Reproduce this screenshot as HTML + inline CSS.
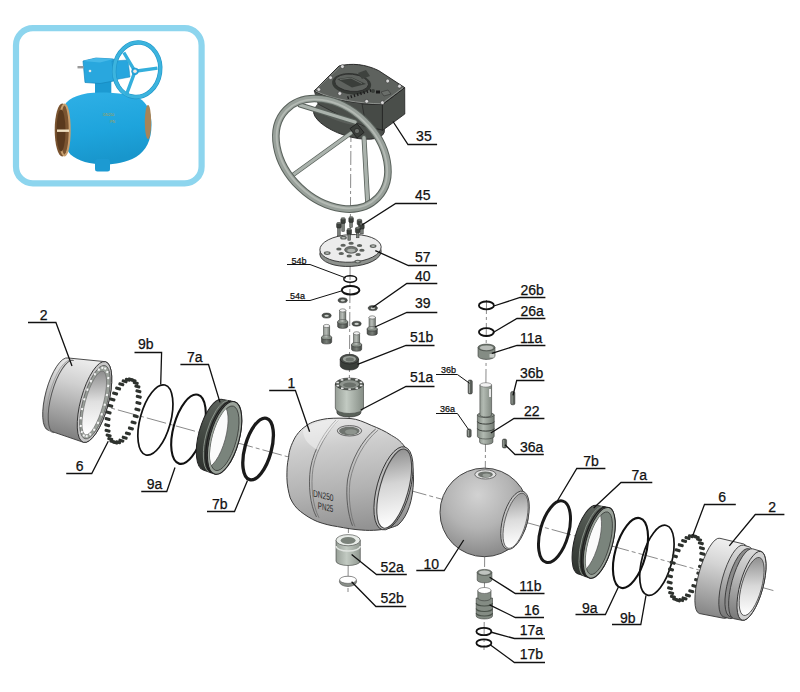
<!DOCTYPE html><html><head><meta charset="utf-8"><style>
html,body{margin:0;padding:0;background:#fff;width:800px;height:692px;overflow:hidden}
svg{display:block}
.lb{font-family:"Liberation Sans",sans-serif;fill:#111;stroke:#111;stroke-width:0.25px}
</style></head><body>
<svg width="800" height="692" viewBox="0 0 800 692">
<defs>
<linearGradient id="gBody" x1="0" y1="0" x2="0.3" y2="1">
 <stop offset="0" stop-color="#e4e4e4"/><stop offset="0.45" stop-color="#c4c4c4"/><stop offset="1" stop-color="#8e8e8e"/>
</linearGradient>
<radialGradient id="gBall" cx="0.45" cy="0.3" r="0.75">
 <stop offset="0" stop-color="#d6d6d6"/><stop offset="0.6" stop-color="#b4b4b4"/><stop offset="1" stop-color="#8a8a8a"/>
</radialGradient>
<linearGradient id="gCyl" x1="0" y1="0" x2="0" y2="1">
 <stop offset="0" stop-color="#ececec"/><stop offset="0.5" stop-color="#b8b8b8"/><stop offset="1" stop-color="#7c7c7c"/>
</linearGradient>
<linearGradient id="gInner" x1="0" y1="0" x2="1" y2="1">
 <stop offset="0" stop-color="#9a9a9a"/><stop offset="0.5" stop-color="#e8e8e8"/><stop offset="1" stop-color="#ffffff"/>
</linearGradient>
<linearGradient id="gSmall" x1="0" y1="0" x2="1" y2="0">
 <stop offset="0" stop-color="#8a908a"/><stop offset="0.45" stop-color="#b8bdb8"/><stop offset="1" stop-color="#6e746e"/>
</linearGradient>
<linearGradient id="gDark" x1="0" y1="0" x2="1" y2="0">
 <stop offset="0" stop-color="#4a4f4a"/><stop offset="0.5" stop-color="#7a807a"/><stop offset="1" stop-color="#3e423e"/>
</linearGradient>
<linearGradient id="gBlue" x1="0" y1="0" x2="0.2" y2="1">
 <stop offset="0" stop-color="#2fb0e6"/><stop offset="0.6" stop-color="#1ea4dc"/><stop offset="1" stop-color="#1896cc"/>
</linearGradient>
<linearGradient id="gBronze" x1="0" y1="0" x2="1" y2="0">
 <stop offset="0" stop-color="#7a5a34"/><stop offset="0.5" stop-color="#d8b888"/><stop offset="1" stop-color="#9a7448"/>
</linearGradient>
<linearGradient id="g7" x1="0" y1="0" x2="0" y2="1"><stop offset="0" stop-color="#5e645e"/><stop offset="0.5" stop-color="#444a44"/><stop offset="1" stop-color="#2e322e"/></linearGradient>
</defs>
<rect width="800" height="692" fill="#fff"/>

<rect x="16" y="28.2" width="185.6" height="155.2" rx="17" fill="#fff" stroke="#8dd5ee" stroke-width="6.2"/>
<g id="bluevalve">
<rect x="95" y="80" width="16.3" height="15" fill="#1c9ad2"/>
<path d="M83,61 L96,58 L113.5,59 L113.8,81 L100,83.5 L85,82.5 Z" fill="#29a7de" stroke="#1686bc" stroke-width="0.7"/>
<path d="M83,61 L96,58 L113.5,59 L100,62.5 Z" fill="#45b8e8"/>
<rect x="77.5" y="66" width="6" height="2.4" fill="#9a9a9a"/>
<circle cx="90" cy="71" r="1.3" fill="#e8e8e8"/>
<path d="M64,106 C69,97 82,92.5 100,92.5 C118,92.5 134,94.5 142,100 C149,106 151.5,115 151.5,125 C151.5,140 146,151 136,157 C126,162.5 115,164.5 105,164.5 C90,164.5 78,161 70.5,154.5 C65,148 63.5,140 63.5,130 C63.5,120 62.5,112 64,106 Z" fill="url(#gBlue)"/>
<ellipse cx="148" cy="122" rx="3.2" ry="17" fill="#a88458"/>
<ellipse cx="62.3" cy="130" rx="7.6" ry="26.5" fill="#7a5430"/>
<ellipse cx="64.5" cy="130" rx="5.2" ry="25.5" fill="none" stroke="#c8a070" stroke-width="2"/>
<ellipse cx="61" cy="130.5" rx="4.5" ry="21" fill="#5a3a1e"/>
<rect x="57" y="129.5" width="12" height="2.4" fill="#f0e0c0"/>
<rect x="95" y="159" width="15" height="12.5" rx="2.5" fill="#1c9ad2"/>
<path d="M112,61 L128,60 L130,77 L114,80 Z" fill="#27a6de" stroke="#1686bc" stroke-width="0.5"/>
<ellipse cx="137.2" cy="69.7" rx="23" ry="27.3" fill="none" stroke="#1f95c8" stroke-width="4.4" transform="rotate(8 137.2 69.7)"/>
<ellipse cx="137.2" cy="69.7" rx="23" ry="27.3" fill="none" stroke="#3cb4de" stroke-width="3.2" transform="rotate(8 137.2 69.7)"/>
<path d="M135,71.3 L123.8,52.5 M135,71.3 L157.5,68.1 M135,71.3 L126.3,95" stroke="#34afdc" stroke-width="3.4" fill="none"/>
<circle cx="135" cy="71.3" r="3.4" fill="#2aa8de" stroke="#1686bc" stroke-width="0.5"/>
<circle cx="135" cy="71.3" r="1.8" fill="#f4e8e0"/>
<text x="103" y="116" font-size="3.6" fill="#b8a040" font-family="Liberation Sans">DN250</text>
<text x="110" y="122.5" font-size="3.6" fill="#b8a040" font-family="Liberation Sans">PN</text>
</g>
<path d="M60,394.0 L775,591.0" stroke="#8a8a8a" stroke-width="1" stroke-dasharray="20 3 4 3" fill="none"/>
<path d="M351,128 L348,592" stroke="#8a8a8a" stroke-width="1" stroke-dasharray="14 3 3 3" fill="none"/>
<path d="M486.5,300 L484,650" stroke="#8a8a8a" stroke-width="1" stroke-dasharray="14 3 3 3" fill="none"/>
<g transform="translate(94.5 402) rotate(15.3)">
<linearGradient id="g2L" gradientUnits="userSpaceOnUse" x1="0" y1="-42" x2="0" y2="42"><stop offset="0" stop-color="#f0f0f0"/><stop offset="0.35" stop-color="#d0d0d0"/><stop offset="1" stop-color="#7e7e7e"/></linearGradient>
<path d="M-37,-35.5 L0,-41.8 A13.8,41.8 0 0 1 0,41.8 L-37,39.5 A12.5,37.5 0 0 1 -37,-35.5 Z" fill="url(#g2L)" stroke="#333" stroke-width="0.8"/>
<path d="M-31,-34.5 A12.5,37.5 0 0 0 -31,40.5" fill="none" stroke="#555" stroke-width="1"/>
<path d="M-33,-34.5 A12.5,37.5 0 0 0 -33,40.5" fill="none" stroke="#999" stroke-width="0.8"/>
<ellipse cx="0" cy="0" rx="13.8" ry="41.8" fill="#c8c8c8" stroke="#333" stroke-width="0.9"/>
<ellipse cx="0.5" cy="0" rx="12" ry="38" fill="#9aa09a" stroke="#555" stroke-width="0.7"/>
<linearGradient id="g2Li" gradientUnits="userSpaceOnUse" x1="-10" y1="-30" x2="8" y2="30"><stop offset="0" stop-color="#8a8a8a"/><stop offset="0.5" stop-color="#e0e0e0"/><stop offset="1" stop-color="#ffffff"/></linearGradient>
<ellipse cx="0" cy="1" rx="9" ry="33" fill="url(#g2Li)" stroke="#666" stroke-width="0.6"/>
<rect x="9.60" y="-1.10" width="2" height="2.2" fill="#f4f4f4"/>
<rect x="9.17" y="8.90" width="2" height="2.2" fill="#f4f4f4"/>
<rect x="7.92" y="18.09" width="2" height="2.2" fill="#f4f4f4"/>
<rect x="5.94" y="25.73" width="2" height="2.2" fill="#f4f4f4"/>
<rect x="3.40" y="31.19" width="2" height="2.2" fill="#f4f4f4"/>
<rect x="0.51" y="34.04" width="2" height="2.2" fill="#f4f4f4"/>
<rect x="-2.51" y="34.04" width="2" height="2.2" fill="#f4f4f4"/>
<rect x="-5.40" y="31.19" width="2" height="2.2" fill="#f4f4f4"/>
<rect x="-7.94" y="25.73" width="2" height="2.2" fill="#f4f4f4"/>
<rect x="-9.92" y="18.09" width="2" height="2.2" fill="#f4f4f4"/>
<rect x="-11.17" y="8.90" width="2" height="2.2" fill="#f4f4f4"/>
<rect x="-11.60" y="-1.10" width="2" height="2.2" fill="#f4f4f4"/>
<rect x="-11.17" y="-11.10" width="2" height="2.2" fill="#f4f4f4"/>
<rect x="-9.92" y="-20.29" width="2" height="2.2" fill="#f4f4f4"/>
<rect x="-7.94" y="-27.93" width="2" height="2.2" fill="#f4f4f4"/>
<rect x="-5.40" y="-33.39" width="2" height="2.2" fill="#f4f4f4"/>
<rect x="-2.51" y="-36.24" width="2" height="2.2" fill="#f4f4f4"/>
<rect x="0.51" y="-36.24" width="2" height="2.2" fill="#f4f4f4"/>
<rect x="3.40" y="-33.39" width="2" height="2.2" fill="#f4f4f4"/>
<rect x="5.94" y="-27.93" width="2" height="2.2" fill="#f4f4f4"/>
<rect x="7.92" y="-20.29" width="2" height="2.2" fill="#f4f4f4"/>
<rect x="9.17" y="-11.10" width="2" height="2.2" fill="#f4f4f4"/>
</g>
<g transform="translate(123 411) rotate(15.3)">
<rect x="10.68" y="0.08" width="6" height="3.1" rx="1.1" fill="#2e322e"/>
<rect x="10.24" y="6.81" width="6" height="3.1" rx="1.1" fill="#2e322e"/>
<rect x="9.22" y="13.18" width="6" height="3.1" rx="1.1" fill="#2e322e"/>
<rect x="7.67" y="18.91" width="6" height="3.1" rx="1.1" fill="#2e322e"/>
<rect x="5.65" y="23.74" width="6" height="3.1" rx="1.1" fill="#2e322e"/>
<rect x="3.25" y="27.46" width="6" height="3.1" rx="1.1" fill="#2e322e"/>
<rect x="0.58" y="29.92" width="6" height="3.1" rx="1.1" fill="#2e322e"/>
<rect x="-2.25" y="31.00" width="6" height="3.1" rx="1.1" fill="#2e322e"/>
<rect x="-5.11" y="30.66" width="6" height="3.1" rx="1.1" fill="#2e322e"/>
<rect x="-7.88" y="28.91" width="6" height="3.1" rx="1.1" fill="#2e322e"/>
<rect x="-10.43" y="25.83" width="6" height="3.1" rx="1.1" fill="#2e322e"/>
<rect x="-12.66" y="21.56" width="6" height="3.1" rx="1.1" fill="#2e322e"/>
<rect x="-14.47" y="16.27" width="6" height="3.1" rx="1.1" fill="#2e322e"/>
<rect x="-15.78" y="10.20" width="6" height="3.1" rx="1.1" fill="#2e322e"/>
<rect x="-16.53" y="3.63" width="6" height="3.1" rx="1.1" fill="#2e322e"/>
<rect x="-16.68" y="-3.18" width="6" height="3.1" rx="1.1" fill="#2e322e"/>
<rect x="-16.24" y="-9.91" width="6" height="3.1" rx="1.1" fill="#2e322e"/>
<rect x="-15.22" y="-16.28" width="6" height="3.1" rx="1.1" fill="#2e322e"/>
<rect x="-13.67" y="-22.01" width="6" height="3.1" rx="1.1" fill="#2e322e"/>
<rect x="-11.65" y="-26.84" width="6" height="3.1" rx="1.1" fill="#2e322e"/>
<rect x="-9.25" y="-30.56" width="6" height="3.1" rx="1.1" fill="#2e322e"/>
<rect x="-6.58" y="-33.02" width="6" height="3.1" rx="1.1" fill="#2e322e"/>
<rect x="-3.75" y="-34.10" width="6" height="3.1" rx="1.1" fill="#2e322e"/>
<rect x="-0.89" y="-33.76" width="6" height="3.1" rx="1.1" fill="#2e322e"/>
<rect x="1.88" y="-32.01" width="6" height="3.1" rx="1.1" fill="#2e322e"/>
<rect x="4.43" y="-28.93" width="6" height="3.1" rx="1.1" fill="#2e322e"/>
<rect x="6.66" y="-24.66" width="6" height="3.1" rx="1.1" fill="#2e322e"/>
<rect x="8.47" y="-19.37" width="6" height="3.1" rx="1.1" fill="#2e322e"/>
<rect x="9.78" y="-13.30" width="6" height="3.1" rx="1.1" fill="#2e322e"/>
<rect x="10.53" y="-6.73" width="6" height="3.1" rx="1.1" fill="#2e322e"/>
</g>
<ellipse cx="155.4" cy="420.0" rx="15.25" ry="36.25" fill="none" stroke="#111" stroke-width="1.7" transform="rotate(15.3 155.4 420.0)"/>
<ellipse cx="188.5" cy="429.2" rx="15.05" ry="35.69" fill="none" stroke="#111" stroke-width="2.1" transform="rotate(15.3 188.5 429.2)"/>
<g transform="translate(224.6 437.9) rotate(15.3)">
<path d="M-12,-36.52612127450428 L0,-37.52612127450428 A14.580474000909488,37.52612127450428 0 0 1 0,37.52612127450428 L-12,36.52612127450428 A14.180474000909488,36.52612127450428 0 0 1 -12,-36.52612127450428 Z" fill="url(#g7)" stroke="#222" stroke-width="1"/>
<path d="M-3.5,-37.23 A14.58,37.53 0 0 0 -3.5,37.23" fill="none" stroke="#1e1e1e" stroke-width="1.3"/>
<path d="M-6.8,-36.93 A14.58,37.53 0 0 0 -6.8,36.93" fill="none" stroke="#8a928a" stroke-width="0.9"/>
<ellipse cx="0" cy="0" rx="14.58" ry="37.53" fill="#9aa29a" stroke="#222" stroke-width="1"/>
<clipPath id="c7L"><ellipse cx="0" cy="0.4" rx="11.98" ry="33.33"/></clipPath>
<ellipse cx="0" cy="0.4" rx="11.98" ry="33.33" fill="#7a847c" stroke="#3a3e3a" stroke-width="0.8"/>
<ellipse cx="-11" cy="1.2" rx="11.98" ry="32.83" fill="#fbfbfb" stroke="#555" stroke-width="0.7" clip-path="url(#c7L)"/>
</g>
<ellipse cx="258.1" cy="449.0" rx="13.26" ry="31.83" fill="none" stroke="#1a1a1a" stroke-width="3.3" transform="rotate(15.3 258.1 449.0)"/>
<linearGradient id="gB1" gradientUnits="userSpaceOnUse" x1="330" y1="418" x2="345" y2="530"><stop offset="0" stop-color="#e6e6e6"/><stop offset="0.25" stop-color="#cdcdcd"/><stop offset="0.65" stop-color="#b2b2b2"/><stop offset="1" stop-color="#939393"/></linearGradient>
<radialGradient id="gB1s" gradientUnits="userSpaceOnUse" cx="300" cy="475" r="45"><stop offset="0" stop-color="#000" stop-opacity="0.0"/><stop offset="1" stop-color="#000" stop-opacity="0.12"/></radialGradient>
<path d="M405,447.2 C400,440 396,438 391.5,435.4 C385,431 378,428 371.2,425.3 C364,422 357,419 351,418.6 C343,418 335,418 327.4,418.6 C318,420 311,422 307.1,425.3 C301,429 298,433 295.3,437.1 C291,445 289,451 288.6,457.4 C287,464 286.9,470 286.9,477.6 C287,485 288.5,492 290.2,497.9 C293,504 296,508 300.4,511.4 C305,515 311,519 317.2,521.5 C324,524 330,525.5 337.5,526.6 C345,528 353,529.5 361.1,530 C367,530.5 372,530.5 378,530 C388,529 394,527 398.2,524.9 C408,516 413,500 413.5,480 C413.5,465 410,455 405,447.2 Z" fill="url(#gB1)" stroke="#3a3a3a" stroke-width="1"/>
<path d="M336,420 C326,430 314,448 310.5,468 C308,485 310,505 316.5,517" fill="none" stroke="#555" stroke-width="0.9"/>
<path d="M338.5,420.3 C328.5,430.3 316.5,448.3 313,468.3 C310.5,485.3 312.5,505.3 319,517.8" fill="none" stroke="#6a6a6a" stroke-width="0.7"/>
<path d="M375.7,429 C362,440 351,460 347.5,480 C345.5,497 348,515 352.5,525.8" fill="none" stroke="#555" stroke-width="0.9"/>
<path d="M378.2,430 C364.5,441 353.5,461 350,481 C348,498 350.5,516 355,526.5" fill="none" stroke="#6a6a6a" stroke-width="0.7"/>
<path d="M303,430 C315,421 330,419 340,420 C330,430 322,440 318,450 C310,446 303,440 303,430 Z" fill="#f2f2f2" opacity="0.55"/>
<linearGradient id="gB1o" gradientUnits="userSpaceOnUse" x1="378" y1="452" x2="410" y2="522"><stop offset="0" stop-color="#8c8c8c"/><stop offset="0.45" stop-color="#d4d4d4"/><stop offset="1" stop-color="#ffffff"/></linearGradient>
<ellipse cx="393.5" cy="488.3" rx="16.59" ry="42.89" fill="#bcbcbc" stroke="#333" stroke-width="0.9" transform="rotate(15.3 393.5 488.3)"/>
<ellipse cx="394.2" cy="488.6" rx="14.16" ry="40.87" fill="url(#gB1o)" stroke="#444" stroke-width="1.1" transform="rotate(15.3 394.2 488.6)"/>
<ellipse cx="349.5" cy="430.8" rx="12.2" ry="5.2" fill="#d8d8d8" stroke="#444" stroke-width="0.8"/>
<ellipse cx="349.3" cy="431" rx="10.3" ry="4.2" fill="#6e736e"/>
<ellipse cx="351" cy="431.8" rx="6" ry="2.6" fill="#8e948e"/>
<g transform="translate(313 496.5) skewY(13)"><text x="0" y="0" font-size="9.6" fill="#2a2a2a" font-family="Liberation Sans" textLength="20.5" lengthAdjust="spacingAndGlyphs">DN250</text><text x="4.8" y="11.2" font-size="9.6" fill="#2a2a2a" font-family="Liberation Sans" textLength="15.5" lengthAdjust="spacingAndGlyphs">PN25</text></g>
<radialGradient id="gBall2" gradientUnits="userSpaceOnUse" cx="478" cy="495" r="60"><stop offset="0" stop-color="#d2d2d2"/><stop offset="0.55" stop-color="#b4b4b4"/><stop offset="1" stop-color="#8c8c8c"/></radialGradient>
<circle cx="484.3" cy="512.4" r="44.3" fill="url(#gBall2)" stroke="#444" stroke-width="1"/>
<linearGradient id="gBallo" gradientUnits="userSpaceOnUse" x1="505" y1="495" x2="525" y2="545"><stop offset="0" stop-color="#9a9a9a"/><stop offset="0.5" stop-color="#dcdcdc"/><stop offset="1" stop-color="#ffffff"/></linearGradient>
<ellipse cx="515.0" cy="520.3" rx="12.33" ry="30.08" fill="#c4c4c4" stroke="#444" stroke-width="0.9" transform="rotate(15.3 515.0 520.3)"/>
<ellipse cx="515.6" cy="520.8" rx="10.49" ry="28.47" fill="url(#gBallo)" stroke="#555" stroke-width="0.8" transform="rotate(15.3 515.6 520.8)"/>
<ellipse cx="485.4" cy="474.4" rx="10.6" ry="4.6" fill="#e2e2e2" stroke="#555" stroke-width="0.8"/>
<ellipse cx="485.4" cy="474.6" rx="7.4" ry="3.2" fill="#6f746f"/>
<ellipse cx="486.5" cy="475.2" rx="4" ry="1.8" fill="#9aa09a"/>
<ellipse cx="554.5" cy="531.7" rx="14.14" ry="31.70" fill="none" stroke="#1a1a1a" stroke-width="3.0" transform="rotate(15.3 554.5 531.7)"/>
<g transform="translate(599.2 542.8) rotate(15.3)">
<path d="M-12,-35.521560771375306 L0,-36.521560771375306 A13.241434923101814,36.521560771375306 0 0 1 0,36.521560771375306 L-12,35.521560771375306 A12.841434923101813,35.521560771375306 0 0 1 -12,-35.521560771375306 Z" fill="url(#g7)" stroke="#222" stroke-width="1"/>
<path d="M-3.5,-36.22 A13.24,36.52 0 0 0 -3.5,36.22" fill="none" stroke="#1e1e1e" stroke-width="1.3"/>
<path d="M-6.8,-35.92 A13.24,36.52 0 0 0 -6.8,35.92" fill="none" stroke="#8a928a" stroke-width="0.9"/>
<ellipse cx="0" cy="0" rx="13.24" ry="36.52" fill="#9aa29a" stroke="#222" stroke-width="1"/>
<clipPath id="c7R"><ellipse cx="0" cy="0.4" rx="10.64" ry="32.32"/></clipPath>
<ellipse cx="0" cy="0.4" rx="10.64" ry="32.32" fill="#7a847c" stroke="#3a3e3a" stroke-width="0.8"/>
<ellipse cx="-11" cy="1.2" rx="10.64" ry="31.82" fill="#fbfbfb" stroke="#555" stroke-width="0.7" clip-path="url(#c7R)"/>
</g>
<ellipse cx="630.5" cy="553.0" rx="15.28" ry="36.10" fill="none" stroke="#111" stroke-width="2.1" transform="rotate(15.3 630.5 553.0)"/>
<ellipse cx="656.9" cy="560.3" rx="14.85" ry="36.11" fill="none" stroke="#111" stroke-width="1.7" transform="rotate(15.3 656.9 560.3)"/>
<g transform="translate(686 568.2) rotate(15.3)">
<rect x="11.28" y="0.11" width="6" height="3.1" rx="1.1" fill="#2e322e"/>
<rect x="10.82" y="6.97" width="6" height="3.1" rx="1.1" fill="#2e322e"/>
<rect x="9.76" y="13.45" width="6" height="3.1" rx="1.1" fill="#2e322e"/>
<rect x="8.13" y="19.28" width="6" height="3.1" rx="1.1" fill="#2e322e"/>
<rect x="6.03" y="24.20" width="6" height="3.1" rx="1.1" fill="#2e322e"/>
<rect x="3.52" y="28.00" width="6" height="3.1" rx="1.1" fill="#2e322e"/>
<rect x="0.73" y="30.50" width="6" height="3.1" rx="1.1" fill="#2e322e"/>
<rect x="-2.22" y="31.60" width="6" height="3.1" rx="1.1" fill="#2e322e"/>
<rect x="-5.20" y="31.25" width="6" height="3.1" rx="1.1" fill="#2e322e"/>
<rect x="-8.09" y="29.47" width="6" height="3.1" rx="1.1" fill="#2e322e"/>
<rect x="-10.76" y="26.34" width="6" height="3.1" rx="1.1" fill="#2e322e"/>
<rect x="-13.09" y="21.98" width="6" height="3.1" rx="1.1" fill="#2e322e"/>
<rect x="-14.97" y="16.60" width="6" height="3.1" rx="1.1" fill="#2e322e"/>
<rect x="-16.34" y="10.42" width="6" height="3.1" rx="1.1" fill="#2e322e"/>
<rect x="-17.12" y="3.72" width="6" height="3.1" rx="1.1" fill="#2e322e"/>
<rect x="-17.28" y="-3.21" width="6" height="3.1" rx="1.1" fill="#2e322e"/>
<rect x="-16.82" y="-10.07" width="6" height="3.1" rx="1.1" fill="#2e322e"/>
<rect x="-15.76" y="-16.55" width="6" height="3.1" rx="1.1" fill="#2e322e"/>
<rect x="-14.13" y="-22.38" width="6" height="3.1" rx="1.1" fill="#2e322e"/>
<rect x="-12.03" y="-27.30" width="6" height="3.1" rx="1.1" fill="#2e322e"/>
<rect x="-9.52" y="-31.10" width="6" height="3.1" rx="1.1" fill="#2e322e"/>
<rect x="-6.73" y="-33.60" width="6" height="3.1" rx="1.1" fill="#2e322e"/>
<rect x="-3.78" y="-34.70" width="6" height="3.1" rx="1.1" fill="#2e322e"/>
<rect x="-0.80" y="-34.35" width="6" height="3.1" rx="1.1" fill="#2e322e"/>
<rect x="2.09" y="-32.57" width="6" height="3.1" rx="1.1" fill="#2e322e"/>
<rect x="4.76" y="-29.44" width="6" height="3.1" rx="1.1" fill="#2e322e"/>
<rect x="7.09" y="-25.08" width="6" height="3.1" rx="1.1" fill="#2e322e"/>
<rect x="8.97" y="-19.70" width="6" height="3.1" rx="1.1" fill="#2e322e"/>
<rect x="10.34" y="-13.52" width="6" height="3.1" rx="1.1" fill="#2e322e"/>
<rect x="11.12" y="-6.82" width="6" height="3.1" rx="1.1" fill="#2e322e"/>
</g>
<g transform="translate(751.5 585.8) rotate(15.3)">
<linearGradient id="g2R" gradientUnits="userSpaceOnUse" x1="0" y1="-40" x2="0" y2="40"><stop offset="0" stop-color="#f2f2f2"/><stop offset="0.35" stop-color="#d4d4d4"/><stop offset="1" stop-color="#868686"/></linearGradient>
<linearGradient id="g2Rb" gradientUnits="userSpaceOnUse" x1="0" y1="-40" x2="0" y2="40"><stop offset="0" stop-color="#e0e0e0"/><stop offset="0.4" stop-color="#bcbcbc"/><stop offset="1" stop-color="#747474"/></linearGradient>
<path d="M-43,-37.5 L-18.5,-38.3 A12,38.5 0 0 1 -18.5,38.7 L-43,40.5 A11,39 0 0 1 -43,-37.5 Z" fill="url(#g2R)" stroke="#333" stroke-width="0.8"/>
<path d="M-18.5,-37.0 L-12.5,-37.0 A11.5,37.2 0 0 1 -12.5,37.400000000000006 L-18.5,37.400000000000006 A11.5,37.2 0 0 1 -18.5,-37.0 Z" fill="url(#g2Rb)" stroke="#333" stroke-width="0.8"/>
<path d="M-12.5,-35.0 L-8.5,-35.0 A11.5,35.2 0 0 1 -8.5,35.400000000000006 L-12.5,35.400000000000006 A11.5,35.2 0 0 1 -12.5,-35.0 Z" fill="#8a8a8a" stroke="#333" stroke-width="0.8"/>
<path d="M-8.5,-36.0 L0,-35.8 A11.5,35.8 0 0 1 0,35.8 L-8.5,36.400000000000006 A11.5,36.2 0 0 1 -8.5,-36.0 Z" fill="url(#g2Rb)" stroke="#333" stroke-width="0.8"/>
<ellipse cx="0" cy="0" rx="11.5" ry="35.6" fill="#d0d0d0" stroke="#333" stroke-width="0.9"/>
<linearGradient id="g2Ro" gradientUnits="userSpaceOnUse" x1="-8" y1="-28" x2="8" y2="28"><stop offset="0" stop-color="#8e8e8e"/><stop offset="0.5" stop-color="#d8d8d8"/><stop offset="1" stop-color="#ffffff"/></linearGradient>
<ellipse cx="0.3" cy="0.6" rx="10" ry="30" fill="url(#g2Ro)" stroke="#444" stroke-width="0.8"/>
</g>
<g id="gearbox">
<ellipse cx="349" cy="121" rx="37" ry="15" fill="#4a4e4a" stroke="#222" stroke-width="0.8" transform="rotate(18 349 121)"/>
<ellipse cx="346" cy="114" rx="31" ry="9" fill="#5a5e5a" transform="rotate(16 346 114)"/>
<path d="M314.2,90.8 L382.4,104.6 L382.4,130 L366,127 L345,118 L318,104 Z" fill="#4a4e4a" stroke="#1e1e1e" stroke-width="0.6"/>
<path d="M382.4,104.6 L404.7,87.6 L404.8,114 L382.4,130.5 Z" fill="#4a4e4a" stroke="#1e1e1e" stroke-width="0.8"/>
<path d="M362,104 L382.4,104.6 L382.4,130 L366,126 Z" fill="#464a46" stroke="#1e1e1e" stroke-width="0.6"/>
<path d="M314.2,90.8 L339.1,65.9 C352,63 365,64 378.5,70.5 L404.7,87.6 L382.4,104.6 C360,104 330,100 314.2,90.8 Z" fill="#5e625e" stroke="#1e1e1e" stroke-width="0.9"/>
<path d="M315.5,91 C332,99.5 360,103.5 381.5,103.8 L403.3,87.6" fill="none" stroke="#8e928e" stroke-width="1"/>
<path d="M316,89.5 L339.5,67.3" fill="none" stroke="#7e827e" stroke-width="0.9"/>
<ellipse cx="351.6" cy="83.8" rx="19.6" ry="10.6" fill="#353935" transform="rotate(6 351.6 83.8)"/>
<ellipse cx="351.6" cy="82.8" rx="17" ry="8.6" fill="#5e625e" stroke="#2a2a2a" stroke-width="0.8" transform="rotate(6 351.6 82.8)"/>
<path d="M337,79 L351,77 L366,84 L352,87.5 Z" fill="#3a3e3a"/>
<path d="M340,79.5 L351,78 L362,83.5" fill="none" stroke="#7a7e7a" stroke-width="0.7"/>
<path d="M358,73 L366,70 L370,76 L362,79 Z" fill="#3e423e"/>
<rect x="347.0" y="96.5" width="1.3" height="2.8" fill="#1e1e1e" transform="rotate(-20 347.0 96.5)"/>
<rect x="350.2" y="95.5" width="1.3" height="2.8" fill="#1e1e1e" transform="rotate(-20 350.2 95.5)"/>
<rect x="353.4" y="94.5" width="1.3" height="2.8" fill="#1e1e1e" transform="rotate(-20 353.4 94.5)"/>
<rect x="356.6" y="93.5" width="1.3" height="2.8" fill="#1e1e1e" transform="rotate(-20 356.6 93.5)"/>
<rect x="359.8" y="92.5" width="1.3" height="2.8" fill="#1e1e1e" transform="rotate(-20 359.8 92.5)"/>
<rect x="363.0" y="91.5" width="1.3" height="2.8" fill="#1e1e1e" transform="rotate(-20 363.0 91.5)"/>
<rect x="366.2" y="90.5" width="1.3" height="2.8" fill="#1e1e1e" transform="rotate(-20 366.2 90.5)"/>
<rect x="369.4" y="89.5" width="1.3" height="2.8" fill="#1e1e1e" transform="rotate(-20 369.4 89.5)"/>
<rect x="376" y="90.5" width="4" height="3" fill="#1a1a1a"/>
<path d="M381,92 L388,90 L391,94 L384,96 Z" fill="#6a6e6a" stroke="#2a2a2a" stroke-width="0.5"/>
<circle cx="373" cy="91" r="2" fill="#3a3e3a"/>
<circle cx="342.4" cy="66.6" r="1.9" fill="#d8d8d8" stroke="#2a2a2a" stroke-width="0.5"/>
<circle cx="330.6" cy="77.7" r="1.9" fill="#d8d8d8" stroke="#2a2a2a" stroke-width="0.5"/>
<circle cx="318.8" cy="89.5" r="1.9" fill="#d8d8d8" stroke="#2a2a2a" stroke-width="0.5"/>
<circle cx="387.7" cy="81" r="1.9" fill="#d8d8d8" stroke="#2a2a2a" stroke-width="0.5"/>
<circle cx="399.5" cy="86.2" r="1.9" fill="#d8d8d8" stroke="#2a2a2a" stroke-width="0.5"/>
<circle cx="366.7" cy="101.3" r="1.9" fill="#d8d8d8" stroke="#2a2a2a" stroke-width="0.5"/>
<circle cx="382.4" cy="102.7" r="1.9" fill="#d8d8d8" stroke="#2a2a2a" stroke-width="0.5"/>
<circle cx="339.8" cy="93.5" r="1.9" fill="#d8d8d8" stroke="#2a2a2a" stroke-width="0.5"/>
</g>
<path d="M300,105 L355,122" stroke="#5a625c" stroke-width="5" stroke-linecap="round"/>
<path d="M300,105 L355,122" stroke="#aab2ac" stroke-width="3.4" stroke-linecap="round"/>
<path d="M291.5,176 L351,133" stroke="#5a625c" stroke-width="4.6" stroke-linecap="round"/>
<path d="M291.5,176 L351,133" stroke="#aab2ac" stroke-width="2.9999999999999996" stroke-linecap="round"/>
<path d="M364,137.6 L367.8,205" stroke="#5a625c" stroke-width="5" stroke-linecap="round"/>
<path d="M364,137.6 L367.8,205" stroke="#aab2ac" stroke-width="3.4" stroke-linecap="round"/>
<ellipse cx="331.9" cy="153.8" rx="46.4" ry="63.5" fill="none" transform="rotate(-46.3 331.9 153.8)" stroke="#5a625c" stroke-width="7.6"/>
<ellipse cx="331.9" cy="153.8" rx="46.4" ry="63.5" fill="none" transform="rotate(-46.3 331.9 153.8)" stroke="#98a09a" stroke-width="5.6"/>
<ellipse cx="331.9" cy="153.8" rx="45.6" ry="62.7" fill="none" transform="rotate(-46.3 331.9 153.8)" stroke="#b4bab4" stroke-width="1.8"/>
<path d="M350,128.5 L357,123.5 L364,132.5 L357,138 Z" fill="#3a3e3a" stroke="#1e1e1e" stroke-width="0.8"/>
<circle cx="357" cy="131" r="2.6" fill="#6a6e6a" stroke="#1e1e1e" stroke-width="0.6"/>
<ellipse cx="350.5" cy="252.6" rx="30.7" ry="13.8" fill="#8e928e" stroke="#333" stroke-width="0.9" transform="rotate(-3 350.5 252.6)"/>
<ellipse cx="350.5" cy="248.4" rx="30.7" ry="13.8" fill="#ececec" stroke="#333" stroke-width="0.9" transform="rotate(-3 350.5 248.4)"/>
<ellipse cx="351.1" cy="249.8" rx="6.5" ry="3.4" fill="#707470" stroke="#333" stroke-width="0.6"/>
<ellipse cx="351.3" cy="250.6" rx="4" ry="1.8" fill="#b0b4b0"/>
<ellipse cx="343.1" cy="245.2" rx="2.7" ry="1.5" fill="#5e625e"/>
<ellipse cx="351.1" cy="243.3" rx="2.7" ry="1.5" fill="#5e625e"/>
<ellipse cx="359.5" cy="245.6" rx="2.7" ry="1.5" fill="#5e625e"/>
<ellipse cx="361.9" cy="250.3" rx="2.7" ry="1.5" fill="#5e625e"/>
<ellipse cx="358.1" cy="254.5" rx="2.7" ry="1.5" fill="#5e625e"/>
<ellipse cx="349.2" cy="256" rx="2.7" ry="1.5" fill="#5e625e"/>
<ellipse cx="341.25" cy="253.6" rx="2.7" ry="1.5" fill="#5e625e"/>
<ellipse cx="338.9" cy="248.9" rx="2.7" ry="1.5" fill="#5e625e"/>
<ellipse cx="327.2" cy="253.1" rx="3.4" ry="1.9" fill="#5e625e"/><ellipse cx="327.2" cy="253.1" rx="2" ry="0.8" fill="#b8bcb8"/>
<ellipse cx="373.1" cy="246.1" rx="3.4" ry="1.9" fill="#5e625e"/><ellipse cx="373.1" cy="246.1" rx="2" ry="0.8" fill="#b8bcb8"/>
<ellipse cx="357.7" cy="261.6" rx="3.4" ry="1.9" fill="#5e625e"/><ellipse cx="357.7" cy="261.6" rx="2" ry="0.8" fill="#b8bcb8"/>
<ellipse cx="343.5" cy="237.7" rx="3.4" ry="1.9" fill="#5e625e"/><ellipse cx="343.5" cy="237.7" rx="2" ry="0.8" fill="#b8bcb8"/>
<rect x="341.8" y="222.4" width="2.6" height="9.0" fill="#7a7f7a" stroke="#2a2a2a" stroke-width="0.5"/>
<rect x="340.8" y="218.4" width="4.6" height="5" rx="1" fill="#3c403c" stroke="#1e1e1e" stroke-width="0.5"/>
<ellipse cx="343.1" cy="218.4" rx="2.3" ry="1.1" fill="#6a6e6a"/>
<rect x="349.8" y="221.4" width="2.6" height="6.0" fill="#7a7f7a" stroke="#2a2a2a" stroke-width="0.5"/>
<rect x="348.8" y="217.4" width="4.6" height="5" rx="1" fill="#3c403c" stroke="#1e1e1e" stroke-width="0.5"/>
<ellipse cx="351.1" cy="217.4" rx="2.3" ry="1.1" fill="#6a6e6a"/>
<rect x="358.2" y="223.8" width="2.6" height="6.0" fill="#7a7f7a" stroke="#2a2a2a" stroke-width="0.5"/>
<rect x="357.2" y="219.8" width="4.6" height="5" rx="1" fill="#3c403c" stroke="#1e1e1e" stroke-width="0.5"/>
<ellipse cx="359.5" cy="219.8" rx="2.3" ry="1.1" fill="#6a6e6a"/>
<rect x="337.6" y="227.0" width="2.6" height="9.0" fill="#7a7f7a" stroke="#2a2a2a" stroke-width="0.5"/>
<rect x="336.6" y="223.0" width="4.6" height="5" rx="1" fill="#3c403c" stroke="#1e1e1e" stroke-width="0.5"/>
<ellipse cx="338.9" cy="223.0" rx="2.3" ry="1.1" fill="#6a6e6a"/>
<rect x="360.6" y="228.0" width="2.6" height="6.0" fill="#7a7f7a" stroke="#2a2a2a" stroke-width="0.5"/>
<rect x="359.6" y="224.0" width="4.6" height="5" rx="1" fill="#3c403c" stroke="#1e1e1e" stroke-width="0.5"/>
<ellipse cx="361.9" cy="224.0" rx="2.3" ry="1.1" fill="#6a6e6a"/>
<rect x="347.9" y="233.2" width="2.6" height="7.0" fill="#7a7f7a" stroke="#2a2a2a" stroke-width="0.5"/>
<rect x="346.9" y="229.2" width="4.6" height="5" rx="1" fill="#3c403c" stroke="#1e1e1e" stroke-width="0.5"/>
<ellipse cx="349.2" cy="229.2" rx="2.3" ry="1.1" fill="#6a6e6a"/>
<rect x="356.4" y="231.8" width="2.6" height="6.0" fill="#7a7f7a" stroke="#2a2a2a" stroke-width="0.5"/>
<rect x="355.4" y="227.8" width="4.6" height="5" rx="1" fill="#3c403c" stroke="#1e1e1e" stroke-width="0.5"/>
<ellipse cx="357.7" cy="227.8" rx="2.3" ry="1.1" fill="#6a6e6a"/>
<ellipse cx="350.2" cy="279" rx="6.4" ry="3.2" fill="none" stroke="#111" stroke-width="1.5"/>
<ellipse cx="350.6" cy="290.2" rx="8.8" ry="4.3" fill="none" stroke="#111" stroke-width="2"/>
<ellipse cx="342.7" cy="300.3" rx="4.6" ry="2.5" fill="#4a4f4a" stroke="#222" stroke-width="0.5"/>
<ellipse cx="342.7" cy="300.5" rx="2.21" ry="1.05" fill="#c8ccc8"/>
<ellipse cx="326.6" cy="315.6" rx="4.6" ry="2.5" fill="#4a4f4a" stroke="#222" stroke-width="0.5"/>
<ellipse cx="326.6" cy="315.8" rx="2.21" ry="1.05" fill="#c8ccc8"/>
<ellipse cx="372.8" cy="308.1" rx="4.6" ry="2.5" fill="#4a4f4a" stroke="#222" stroke-width="0.5"/>
<ellipse cx="372.8" cy="308.3" rx="2.21" ry="1.05" fill="#c8ccc8"/>
<ellipse cx="356.6" cy="323.7" rx="4.6" ry="2.5" fill="#4a4f4a" stroke="#222" stroke-width="0.5"/>
<ellipse cx="356.6" cy="323.9" rx="2.21" ry="1.05" fill="#c8ccc8"/>
<rect x="339.5" y="310.4" width="6.4" height="11.5" fill="url(#gSmall)" stroke="#3a3e3a" stroke-width="0.5"/>
<ellipse cx="342.7" cy="310.4" rx="3.2" ry="1.6" fill="#f0f0f0" stroke="#3a3e3a" stroke-width="0.5"/>
<path d="M337.6,321.9 L347.8,321.9 L347.8,326.2 A5.1,2.2 0 0 1 337.6,326.2 Z" fill="url(#gDark)" stroke="#2a2a2a" stroke-width="0.5"/>
<ellipse cx="342.7" cy="321.9" rx="5.1" ry="2.2" fill="#8a928a" stroke="#2a2a2a" stroke-width="0.5"/>
<rect x="339.5" y="319.9" width="6.4" height="2" fill="url(#gSmall)"/>
<rect x="323.4" y="326.0" width="6.4" height="11.5" fill="url(#gSmall)" stroke="#3a3e3a" stroke-width="0.5"/>
<ellipse cx="326.6" cy="326.0" rx="3.2" ry="1.6" fill="#f0f0f0" stroke="#3a3e3a" stroke-width="0.5"/>
<path d="M321.5,337.5 L331.7,337.5 L331.7,341.8 A5.1,2.2 0 0 1 321.5,341.8 Z" fill="url(#gDark)" stroke="#2a2a2a" stroke-width="0.5"/>
<ellipse cx="326.6" cy="337.5" rx="5.1" ry="2.2" fill="#8a928a" stroke="#2a2a2a" stroke-width="0.5"/>
<rect x="323.4" y="335.5" width="6.4" height="2" fill="url(#gSmall)"/>
<rect x="369.0" y="317.4" width="6.4" height="11.5" fill="url(#gSmall)" stroke="#3a3e3a" stroke-width="0.5"/>
<ellipse cx="372.2" cy="317.4" rx="3.2" ry="1.6" fill="#f0f0f0" stroke="#3a3e3a" stroke-width="0.5"/>
<path d="M367.1,328.9 L377.3,328.9 L377.3,333.2 A5.1,2.2 0 0 1 367.1,333.2 Z" fill="url(#gDark)" stroke="#2a2a2a" stroke-width="0.5"/>
<ellipse cx="372.2" cy="328.9" rx="5.1" ry="2.2" fill="#8a928a" stroke="#2a2a2a" stroke-width="0.5"/>
<rect x="369.0" y="326.9" width="6.4" height="2" fill="url(#gSmall)"/>
<rect x="353.4" y="333.3" width="6.4" height="11.5" fill="url(#gSmall)" stroke="#3a3e3a" stroke-width="0.5"/>
<ellipse cx="356.6" cy="333.3" rx="3.2" ry="1.6" fill="#f0f0f0" stroke="#3a3e3a" stroke-width="0.5"/>
<path d="M351.5,344.8 L361.7,344.8 L361.7,349.1 A5.1,2.2 0 0 1 351.5,349.1 Z" fill="url(#gDark)" stroke="#2a2a2a" stroke-width="0.5"/>
<ellipse cx="356.6" cy="344.8" rx="5.1" ry="2.2" fill="#8a928a" stroke="#2a2a2a" stroke-width="0.5"/>
<rect x="353.4" y="342.8" width="6.4" height="2" fill="url(#gSmall)"/>
<path d="M340.2,359.1 L340.2,365.5 A9.2,4.6 0 0 0 358.6,365.5 L358.6,359.1 Z" fill="#3a3e3a" stroke="#1e1e1e" stroke-width="0.6"/>
<ellipse cx="349.4" cy="359.1" rx="9.2" ry="4.8" fill="#4a4e4a" stroke="#1e1e1e" stroke-width="0.6"/>
<ellipse cx="349.4" cy="359.1" rx="6.6" ry="3.2" fill="#9aa09a"/>
<ellipse cx="349.8" cy="359.6" rx="4.2" ry="2" fill="#6e746e"/>
<linearGradient id="g51" gradientUnits="userSpaceOnUse" x1="335" y1="0" x2="364" y2="0"><stop offset="0" stop-color="#949c94"/><stop offset="0.4" stop-color="#c2cac2"/><stop offset="1" stop-color="#848c84"/></linearGradient>
<path d="M336.9,408 L336.9,412.5 A12,4.5 0 0 0 360.9,412.5 L360.9,408 Z" fill="#5a625a" stroke="#2a2a2a" stroke-width="0.6"/>
<path d="M335.3,384 L335.3,408 A14.1,5.5 0 0 0 363.5,408 L363.5,384 Z" fill="url(#g51)" stroke="#3a3e3a" stroke-width="0.6"/>
<ellipse cx="349.4" cy="384" rx="14.1" ry="6" fill="#4e544e" stroke="#2a2a2a" stroke-width="0.6"/>
<rect x="359.9" y="384.7" width="2.6" height="1.6" fill="#e8e8e8"/>
<rect x="355.5" y="387.3" width="2.6" height="1.6" fill="#e8e8e8"/>
<rect x="348.3" y="388.3" width="2.6" height="1.6" fill="#e8e8e8"/>
<rect x="341.0" y="387.4" width="2.6" height="1.6" fill="#e8e8e8"/>
<rect x="336.5" y="384.8" width="2.6" height="1.6" fill="#e8e8e8"/>
<rect x="336.3" y="381.7" width="2.6" height="1.6" fill="#e8e8e8"/>
<rect x="340.7" y="379.1" width="2.6" height="1.6" fill="#e8e8e8"/>
<rect x="347.9" y="378.1" width="2.6" height="1.6" fill="#e8e8e8"/>
<rect x="355.2" y="379.0" width="2.6" height="1.6" fill="#e8e8e8"/>
<rect x="359.7" y="381.6" width="2.6" height="1.6" fill="#e8e8e8"/>
<ellipse cx="349.4" cy="384.3" rx="9.6" ry="4" fill="#8e948e"/>
<ellipse cx="349.6" cy="385" rx="6.5" ry="2.6" fill="#6a706a"/>
<path d="M336,540.2 L336,561 A12.1,4.5 0 0 0 360.3,561 L360.3,540.2 Z" fill="url(#g51)" stroke="#3a3e3a" stroke-width="0.6"/>
<ellipse cx="348.1" cy="540.2" rx="12.1" ry="5.6" fill="#e8ece8" stroke="#3a3e3a" stroke-width="0.6"/>
<ellipse cx="348.1" cy="540.5" rx="7.5" ry="3.5" fill="#7a827a"/>
<path d="M336,546 A12.1,5 0 0 0 360.3,546" fill="none" stroke="#e0e4e0" stroke-width="1.4"/>
<ellipse cx="348" cy="581.5" rx="8.6" ry="5" fill="#8a908a" stroke="#444" stroke-width="0.6"/>
<ellipse cx="348" cy="579.8" rx="8.4" ry="3.6" fill="#ffffff" stroke="#555" stroke-width="0.6"/>
<ellipse cx="486.4" cy="305.4" rx="7.5" ry="3.9" fill="none" stroke="#111" stroke-width="1.8"/>
<ellipse cx="486.4" cy="332.1" rx="7.5" ry="3.9" fill="none" stroke="#111" stroke-width="1.8"/>
<path d="M478,347.5 L478,356 A8.5,3.4 0 0 0 495,356 L495,347.5 Z" fill="url(#g51)" stroke="#3a3e3a" stroke-width="0.6"/>
<ellipse cx="486.5" cy="347.5" rx="8.5" ry="3.4" fill="#6e766e" stroke="#3a3e3a" stroke-width="0.6"/>
<ellipse cx="486.5" cy="347.8" rx="6.6" ry="2.4" fill="#b8bcb8"/>
<rect x="489.5" y="354" width="5" height="3.5" fill="#c8ccc8"/>
<rect x="468.1" y="380" width="4.2" height="14.0" rx="1.5" fill="#5a605a" stroke="#2a2a2a" stroke-width="0.5"/>
<rect x="468.9" y="381" width="1.1" height="12.0" fill="#9aa09a"/>
<rect x="510.7" y="391.5" width="4.2" height="13.3" rx="1.5" fill="#5a605a" stroke="#2a2a2a" stroke-width="0.5"/>
<rect x="511.5" y="392.5" width="1.1" height="11.3" fill="#9aa09a"/>
<rect x="467.0" y="429" width="4.2" height="8.2" rx="1.5" fill="#5a605a" stroke="#2a2a2a" stroke-width="0.5"/>
<rect x="467.8" y="430" width="1.1" height="6.2" fill="#9aa09a"/>
<rect x="502.4" y="439" width="4.2" height="9.0" rx="1.5" fill="#5a605a" stroke="#2a2a2a" stroke-width="0.5"/>
<rect x="503.2" y="440" width="1.1" height="7.0" fill="#9aa09a"/>
<linearGradient id="g22" gradientUnits="userSpaceOnUse" x1="477" y1="0" x2="495" y2="0"><stop offset="0" stop-color="#7e867e"/><stop offset="0.35" stop-color="#b2bab2"/><stop offset="1" stop-color="#6e766e"/></linearGradient>
<path d="M479.6,436 L479.6,442 A6.6,2.4 0 0 0 492.9,442 L492.9,436 Z" fill="url(#g22)" stroke="#3a3e3a" stroke-width="0.6"/>
<path d="M477.4,415 L477.4,436.4 A8.4,2.6 0 0 0 494.2,436.4 L494.2,415 Z" fill="url(#g22)" stroke="#3a3e3a" stroke-width="0.6"/>
<path d="M477.4,421.5 A8.4,2.6 0 0 0 494.2,421.5" fill="none" stroke="#3a3e3a" stroke-width="1"/>
<path d="M477.4,428.5 A8.4,2.6 0 0 0 494.2,428.5" fill="none" stroke="#3a3e3a" stroke-width="1"/>
<ellipse cx="485.8" cy="415" rx="8.4" ry="2.6" fill="#8e968e" stroke="#3a3e3a" stroke-width="0.6"/>
<path d="M479.9,384.9 L479.9,415 A5.85,2 0 0 0 491.6,415 L491.6,384.9 Z" fill="url(#g22)" stroke="#3a3e3a" stroke-width="0.6"/>
<ellipse cx="485.8" cy="384.9" rx="5.85" ry="2.2" fill="#f2f2f2" stroke="#555" stroke-width="0.5"/>
<rect x="489" y="389" width="2" height="8" fill="#e8e8e8"/>
<path d="M477.2,572.4 L477.2,580 A7.35,2.8 0 0 0 491.9,580 L491.9,572.4 Z" fill="url(#g51)" stroke="#3a3e3a" stroke-width="0.6"/>
<ellipse cx="484.5" cy="572.4" rx="7.35" ry="3" fill="#7a827a" stroke="#3a3e3a" stroke-width="0.6"/>
<ellipse cx="484.5" cy="572.6" rx="5.6" ry="2.1" fill="#c0c4c0"/>
<path d="M476.2,598 L476.2,616 A8.15,3 0 0 0 492.5,616 L492.5,598 Z" fill="url(#g51)" stroke="#3a3e3a" stroke-width="0.6"/>
<path d="M476.2,603 A8.15,3 0 0 0 492.5,603" fill="none" stroke="#4a524a" stroke-width="1.1"/>
<path d="M476.2,608.5 A8.15,3 0 0 0 492.5,608.5" fill="none" stroke="#4a524a" stroke-width="1.1"/>
<path d="M476.2,613 A8.15,3 0 0 0 492.5,613" fill="none" stroke="#4a524a" stroke-width="1.1"/>
<path d="M477.8,590.5 L477.8,598 A6.6,2.8 0 0 0 491,598 L491,590.5 Z" fill="url(#g51)" stroke="#3a3e3a" stroke-width="0.6"/>
<ellipse cx="484.4" cy="590.5" rx="6.6" ry="3" fill="#ffffff" stroke="#555" stroke-width="0.6"/>
<ellipse cx="483.9" cy="631.5" rx="7.5" ry="3.7" fill="none" stroke="#111" stroke-width="1.8"/>
<ellipse cx="483.9" cy="643" rx="7.5" ry="3.7" fill="none" stroke="#111" stroke-width="1.8"/>
<g id="labels">
<text x="416.1" y="140.6" font-size="14" class="lb">35</text>
<path d="M437.1,144.5 L408,144.5 L393,121.5" fill="none" stroke="#111" stroke-width="1.3"/>
<text x="415.0" y="199.7" font-size="14" class="lb">45</text>
<path d="M437,203.5 L395.7,203.5 L362,225" fill="none" stroke="#111" stroke-width="1.3"/>
<text x="415.0" y="262.0" font-size="14" class="lb">57</text>
<path d="M437,265.5 L408.4,265.5 L375.3,250.6" fill="none" stroke="#111" stroke-width="1.3"/>
<text x="415.0" y="280.6" font-size="14" class="lb">40</text>
<path d="M437.3,283.5 L406.8,283.5 L372.5,307.5" fill="none" stroke="#111" stroke-width="1.3"/>
<text x="415.0" y="308.4" font-size="14" class="lb">39</text>
<path d="M437.3,312.5 L406.8,312.5 L375,327" fill="none" stroke="#111" stroke-width="1.3"/>
<text x="410.0" y="341.5" font-size="14" class="lb">51b</text>
<path d="M434.5,345.5 L406,345.5 L357.6,364.3" fill="none" stroke="#111" stroke-width="1.3"/>
<text x="410.0" y="382.0" font-size="14" class="lb">51a</text>
<path d="M434.5,386.5 L406,386.5 L360.7,410" fill="none" stroke="#111" stroke-width="1.3"/>
<text x="520.5" y="295.3" font-size="14" class="lb">26b</text>
<path d="M545.4,297.5 L520.1,297.5 L493.8,306" fill="none" stroke="#111" stroke-width="1.3"/>
<text x="520.5" y="315.5" font-size="14" class="lb">26a</text>
<path d="M545.4,318.5 L517,318.5 L492.8,332.7" fill="none" stroke="#111" stroke-width="1.3"/>
<text x="520.0" y="342.8" font-size="14" class="lb">11a</text>
<path d="M545.4,345.5 L517,345.5 L491.8,353.3" fill="none" stroke="#111" stroke-width="1.3"/>
<text x="520.0" y="378.2" font-size="14" class="lb">36b</text>
<path d="M544.4,380.5 L516.7,380.5 L513,395.4" fill="none" stroke="#111" stroke-width="1.3"/>
<text x="524.0" y="416.4" font-size="14" class="lb">22</text>
<path d="M544.4,418.5 L514,418.5 L490.8,433" fill="none" stroke="#111" stroke-width="1.3"/>
<text x="520.0" y="451.8" font-size="14" class="lb">36a</text>
<path d="M543.8,454.5 L515,454.5 L505,444.7" fill="none" stroke="#111" stroke-width="1.3"/>
<text x="519.2" y="590.5" font-size="14" class="lb">11b</text>
<path d="M544.5,593.5 L515.3,593.5 L489.6,577.2" fill="none" stroke="#111" stroke-width="1.3"/>
<text x="524.0" y="615.3" font-size="14" class="lb">16</text>
<path d="M544.0,617.5 L515.3,617.5 L489.6,604.8" fill="none" stroke="#111" stroke-width="1.3"/>
<text x="519.7" y="635.3" font-size="14" class="lb">17a</text>
<path d="M545.0,638.5 L514.4,638.5 L490.5,632" fill="none" stroke="#111" stroke-width="1.3"/>
<text x="519.7" y="659.2" font-size="14" class="lb">17b</text>
<path d="M545.0,662.5 L514.4,662.5 L490.5,644.9" fill="none" stroke="#111" stroke-width="1.3"/>
<text x="423.4" y="568.8" font-size="14" class="lb">10</text>
<path d="M416.3,570.5 L444.2,570.5 L463.7,540" fill="none" stroke="#111" stroke-width="1.3"/>
<text x="380.5" y="572.2" font-size="14" class="lb">52a</text>
<path d="M406.8,574.5 L376.5,574.5 L351.6,554.4" fill="none" stroke="#111" stroke-width="1.3"/>
<text x="380.5" y="603.0" font-size="14" class="lb">52b</text>
<path d="M406.2,606.5 L375.9,606.5 L351.6,581.7" fill="none" stroke="#111" stroke-width="1.3"/>
<text x="287.6" y="388.0" font-size="14" class="lb">1</text>
<path d="M269.2,390.5 L295.4,390.5 L309.6,431.7" fill="none" stroke="#111" stroke-width="1.3"/>
<text x="39.7" y="319.7" font-size="14" class="lb">2</text>
<path d="M28,322.5 L55.9,322.5 L72,366" fill="none" stroke="#111" stroke-width="1.3"/>
<text x="138.0" y="348.6" font-size="14" class="lb">9b</text>
<path d="M134.5,352.5 L161.6,352.5 L160.7,384.5" fill="none" stroke="#111" stroke-width="1.3"/>
<text x="187.0" y="361.6" font-size="14" class="lb">7a</text>
<path d="M180.4,364.5 L208.5,364.5 L220,402.4" fill="none" stroke="#111" stroke-width="1.3"/>
<text x="75.7" y="470.5" font-size="14" class="lb">6</text>
<path d="M66.25,473.5 L91.75,473.5 L108.25,441.25" fill="none" stroke="#111" stroke-width="1.3"/>
<text x="146.8" y="489.3" font-size="14" class="lb">9a</text>
<path d="M141.25,491.5 L166.75,491.5 L175,467.5" fill="none" stroke="#111" stroke-width="1.3"/>
<text x="212.0" y="509.0" font-size="14" class="lb">7b</text>
<path d="M207,511.5 L234.5,511.5 L247.5,480.5" fill="none" stroke="#111" stroke-width="1.3"/>
<text x="583.3" y="466.0" font-size="14" class="lb">7b</text>
<path d="M605.4,468.5 L576.8,468.5 L557.3,501" fill="none" stroke="#111" stroke-width="1.3"/>
<text x="631.5" y="480.3" font-size="14" class="lb">7a</text>
<path d="M652.3,482.5 L621,482.5 L593.7,508" fill="none" stroke="#111" stroke-width="1.3"/>
<text x="582.0" y="613.0" font-size="14" class="lb">9a</text>
<path d="M575.5,614.5 L605.4,614.5 L618.4,587" fill="none" stroke="#111" stroke-width="1.3"/>
<text x="620.0" y="622.6" font-size="14" class="lb">9b</text>
<path d="M612,624.5 L640.8,624.5 L646,595.3" fill="none" stroke="#111" stroke-width="1.3"/>
<text x="718.3" y="501.6" font-size="14" class="lb">6</text>
<path d="M735.8,504.5 L704.5,504.5 L692.8,535.4" fill="none" stroke="#111" stroke-width="1.3"/>
<text x="768.3" y="512.0" font-size="14" class="lb">2</text>
<path d="M784.4,514.5 L755.3,514.5 L729.3,545.8" fill="none" stroke="#111" stroke-width="1.3"/>
<text x="291.6" y="263.5" font-size="9" class="lb">54b</text>
<path d="M287,264.5 L310,264.5 L346,278" fill="none" stroke="#111" stroke-width="1"/>
<text x="290.0" y="298.8" font-size="9" class="lb">54a</text>
<path d="M285.8,300.5 L310,300.5 L341.3,291" fill="none" stroke="#111" stroke-width="1"/>
<text x="441.0" y="372.6" font-size="9" class="lb">36b</text>
<path d="M436,374.5 L457.4,374.5 L469.6,383.3" fill="none" stroke="#111" stroke-width="1"/>
<text x="440.0" y="411.6" font-size="9" class="lb">36a</text>
<path d="M436,413.5 L457.4,413.5 L468.6,429.6" fill="none" stroke="#111" stroke-width="1"/>
</g>
</svg></body></html>
